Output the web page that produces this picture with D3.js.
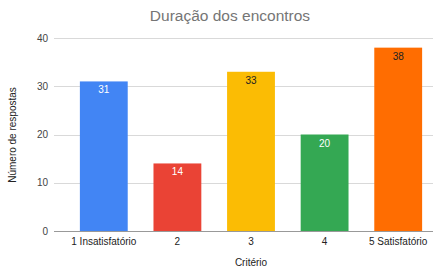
<!DOCTYPE html>
<html><head><meta charset="utf-8">
<script src="https://cdn.jsdelivr.net/npm/d3@7"></script>
<style>body{margin:0;background:#fff}svg{display:block;font-family:Arial,"Liberation Sans",sans-serif}</style>
</head><body>
<svg id="c" width="438" height="267"></svg>
<script>
const categories = ["1 Insatisfatório","2","3","4","5 Satisfatório"];
const values = [31,14,33,20,38];
const colors = ["#4285f4","#ea4335","#fbbc04","#34a853","#ff6d01"];
const labelColors = ["#ffffff","#ffffff","#222222","#ffffff","#222222"];
const yTicks = [0,10,20,30,40];
const title = "Duração dos encontros";
const xTitle = "Critério";
const yTitle = "Número de respostas";

const svg = d3.select("#c");
const x = d3.scaleBand().domain(categories).range([67,435]).paddingInner(0.35).paddingOuter(0.175);
const y = d3.scaleLinear().domain([0,40]).range([231,38]);

svg.append("text").attr("x",230).attr("y",21).attr("text-anchor","middle")
  .attr("font-size",15.5).attr("fill","#757575").text(title);

svg.selectAll(".grid").data(yTicks.filter(d=>d>0)).enter().append("line")
  .attr("x1",54).attr("x2",433).attr("y1",d=>Math.round(y(d))+0.5).attr("y2",d=>Math.round(y(d))+0.5)
  .attr("stroke","#d9d9d9").attr("stroke-width",1);

svg.selectAll(".yt").data(yTicks).enter().append("text")
  .attr("x",48).attr("y",d=>y(d)+3.5).attr("text-anchor","end")
  .attr("font-size",10).attr("fill","#444").text(d=>d);

svg.selectAll(".bar").data(values).enter().append("rect")
  .attr("x",(d,i)=>x(categories[i])).attr("width",x.bandwidth())
  .attr("y",d=>y(d)).attr("height",d=>y(0)-y(d))
  .attr("fill",(d,i)=>colors[i]);

svg.selectAll(".vl").data(values).enter().append("text")
  .attr("x",(d,i)=>x(categories[i])+x.bandwidth()/2).attr("y",d=>y(d)+12)
  .attr("text-anchor","middle").attr("font-size",10)
  .attr("fill",(d,i)=>labelColors[i]).text(d=>d);

svg.append("line").attr("x1",54).attr("x2",433).attr("y1",231.5).attr("y2",231.5)
  .attr("stroke","#999").attr("stroke-width",1);

svg.selectAll(".xl").data(categories).enter().append("text")
  .attr("x",d=>x(d)+x.bandwidth()/2).attr("y",245).attr("text-anchor","middle")
  .attr("font-size",10).attr("fill","#222").text(d=>d);

svg.append("text").attr("x",251).attr("y",265.5).attr("text-anchor","middle")
  .attr("font-size",10).attr("fill","#222").text(xTitle);

svg.append("text").attr("transform","translate(16,135) rotate(-90)").attr("text-anchor","middle")
  .attr("font-size",10).attr("fill","#222").text(yTitle);
</script>
</body></html>
